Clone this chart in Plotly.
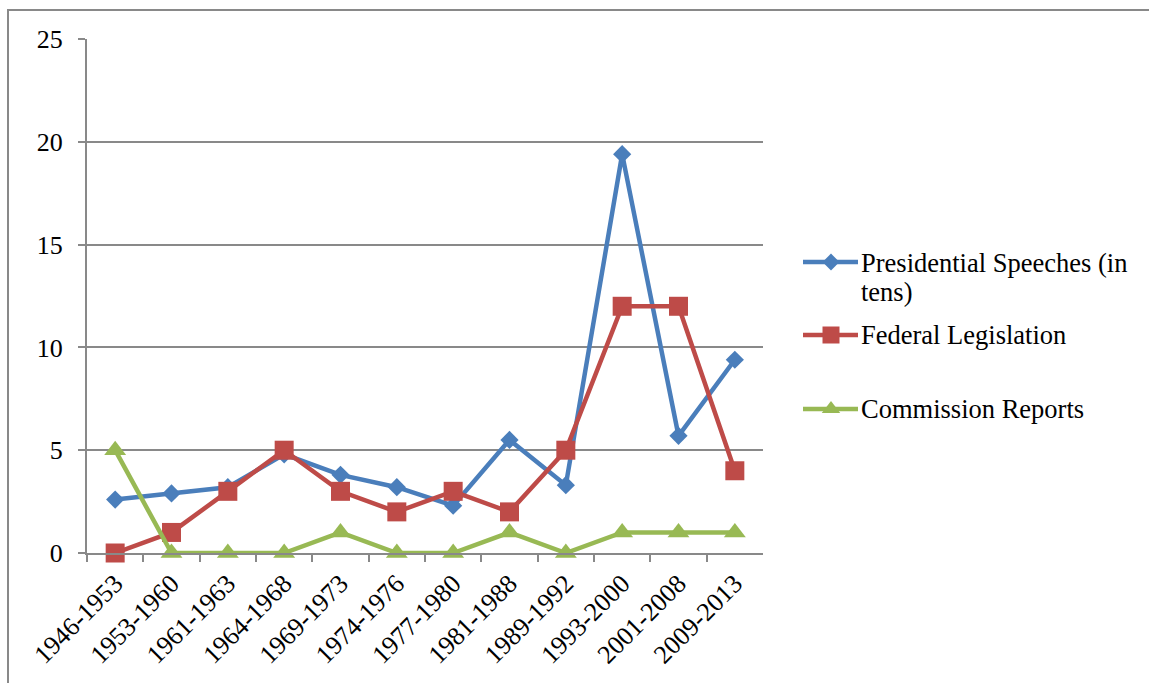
import plotly.graph_objects as go

W, H = 1149, 683

categories = ["1946-1953", "1953-1960", "1961-1963", "1964-1968", "1969-1973", "1974-1976",
              "1977-1980", "1981-1988", "1989-1992", "1993-2000", "2001-2008", "2009-2013"]
presidential = [2.6, 2.9, 3.2, 4.8, 3.8, 3.2, 2.3, 5.5, 3.3, 19.4, 5.7, 9.4]
federal = [0, 1, 3, 5, 3, 2, 3, 2, 5, 12, 12, 4]
commission = [5, 0, 0, 0, 1, 0, 0, 1, 0, 1, 1, 1]

series_names = ["Presidential Speeches (in tens)", "Federal Legislation", "Commission Reports"]
colors = ["#4A7EBB", "#BE4B48", "#98B954"]
symbols = ["diamond", "square", "triangle-up"]
sizes = [14, 19, 19]

FONT = "Liberation Serif"
GRAY = "#898989"

fig = go.Figure()
for vals, name, c, s, sz in zip([presidential, federal, commission], series_names, colors, symbols, sizes):
    fig.add_trace(go.Scatter(
        x=categories, y=vals, name=name, mode="lines+markers",
        line=dict(color=c, width=4.5),
        marker=dict(symbol=s, size=sz, color=c, line=dict(width=0), opacity=1),
        showlegend=False, xaxis="x", yaxis="y", cliponaxis=False,
    ))

# Manual legend in a pixel-space overlay axis
leg_y = [262, 335, 409]
for ly, c, s, sz in zip(leg_y, colors, symbols, [13, 17, 16]):
    fig.add_trace(go.Scatter(
        x=[803, 858], y=[ly, ly], mode="lines",
        line=dict(color=c, width=4.5),
        showlegend=False, xaxis="x2", yaxis="y2", hoverinfo="skip",
    ))
    fig.add_trace(go.Scatter(
        x=[831], y=[ly], mode="markers",
        marker=dict(symbol=s, size=sz, color=c, line=dict(width=0), opacity=1),
        showlegend=False, xaxis="x2", yaxis="y2", hoverinfo="skip",
    ))

legend_texts = [("Presidential Speeches (in", 263), ("tens)", 292),
                ("Federal Legislation", 335), ("Commission Reports", 409)]
annotations = []
for t, ty in legend_texts:
    annotations.append(dict(
        text=t, x=859 / W, y=1 - ty / H, xref="paper", yref="paper",
        xanchor="left", yanchor="middle", showarrow=False,
        font=dict(family=FONT, size=26.5, color="black"),
    ))

fig.update_layout(
    width=W, height=H,
    margin=dict(l=0, r=0, t=0, b=0),
    paper_bgcolor="white", plot_bgcolor="rgba(0,0,0,0)",
    font=dict(family=FONT, size=26, color="black"),
    xaxis=dict(
        domain=[87 / W, 763 / W], anchor="y",
        type="category", range=[-0.5, 11.5],
        showline=True, linecolor=GRAY, linewidth=2,
        showgrid=False, ticks="outside", tickson="boundaries",
        ticklen=7, tickwidth=2, tickcolor=GRAY,
        tickangle=-45, tickfont=dict(family=FONT, size=26, color="black"),
        ticklabelstandoff=3,
        automargin=False, fixedrange=True,
    ),
    yaxis=dict(
        domain=[1 - 553 / H, 1 - 39 / H], anchor="x",
        range=[0, 25], dtick=5, tick0=0,
        showline=True, linecolor=GRAY, linewidth=2,
        showgrid=True, gridcolor=GRAY, gridwidth=2,
        zeroline=False,
        ticks="outside", ticklen=7, tickwidth=2, tickcolor=GRAY,
        ticklabelstandoff=10,
        tickfont=dict(family=FONT, size=26, color="black"),
        automargin=False, fixedrange=True,
    ),
    xaxis2=dict(domain=[0, 1], anchor="y2", range=[0, W], visible=False, fixedrange=True),
    yaxis2=dict(domain=[0, 1], anchor="x2", range=[H, 0], visible=False, fixedrange=True),
    annotations=annotations,
    shapes=[dict(type="rect", xref="paper", yref="paper",
                 x0=8 / W, x1=1.05, y0=-0.05, y1=1 - 10 / H,
                 line=dict(color=GRAY, width=2), layer="below")],
)

fig.write_html("out.html")
